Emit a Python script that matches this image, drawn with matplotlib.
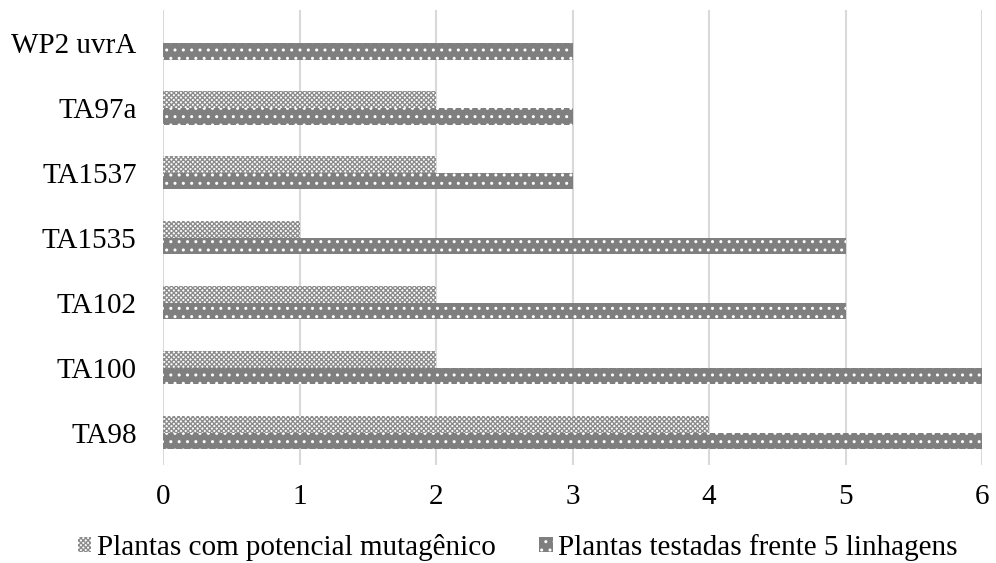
import matplotlib
matplotlib.use("Agg")
import matplotlib.pyplot as plt
import numpy as np

plt.rcParams['font.family'] = ['Liberation Serif', 'DejaVu Serif']
plt.rcParams['hatch.linewidth'] = 1.0

strains = ["TA98", "TA100", "TA102", "TA1535", "TA1537", "TA97a", "WP2 uvrA"]
mutagenic = [4, 2, 2, 1, 2, 2, 0]
tested = [6, 6, 5, 5, 3, 3, 3]
series_names = ["Plantas com potencial mutagênico", "Plantas testadas frente 5 linhagens"]

fig = plt.figure(figsize=(9.96, 5.63), dpi=100)
ax = fig.add_axes([0.1637, 0.174, 0.8223, 0.808])

y = np.arange(len(strains))
h = 0.26

b1 = ax.barh(y + h / 2, mutagenic, height=h, color="white", edgecolor="#8c8c8c",
             hatch="xxxxxxx", linewidth=0, label=series_names[0])
b2 = ax.barh(y - h / 2, tested, height=h, color="#7f7f7f", edgecolor="white",
             hatch="..", linewidth=0, label=series_names[1])

ax.set_xlim(0, 6)
ax.set_ylim(-0.5, 6.5)
ax.set_xticks(range(0, 7))
ax.set_yticks(y)
ax.set_yticklabels(strains)
ax.tick_params(axis="both", length=0, labelsize=21)
ax.tick_params(axis="x", pad=14)
ax.tick_params(axis="y", pad=19)
ax.grid(axis="x", color="#d9d9d9", linewidth=1.5)
ax.set_axisbelow(True)
for s in ax.spines.values():
    s.set_visible(False)

fig.legend(handles=[b1, b2], loc="center", bbox_to_anchor=(0.52, 0.028), ncol=2,
           frameon=False, fontsize=21, handlelength=0.45, handleheight=0.45,
           handletextpad=0.2, columnspacing=1.5)

fig.savefig("out.png", dpi=100)
